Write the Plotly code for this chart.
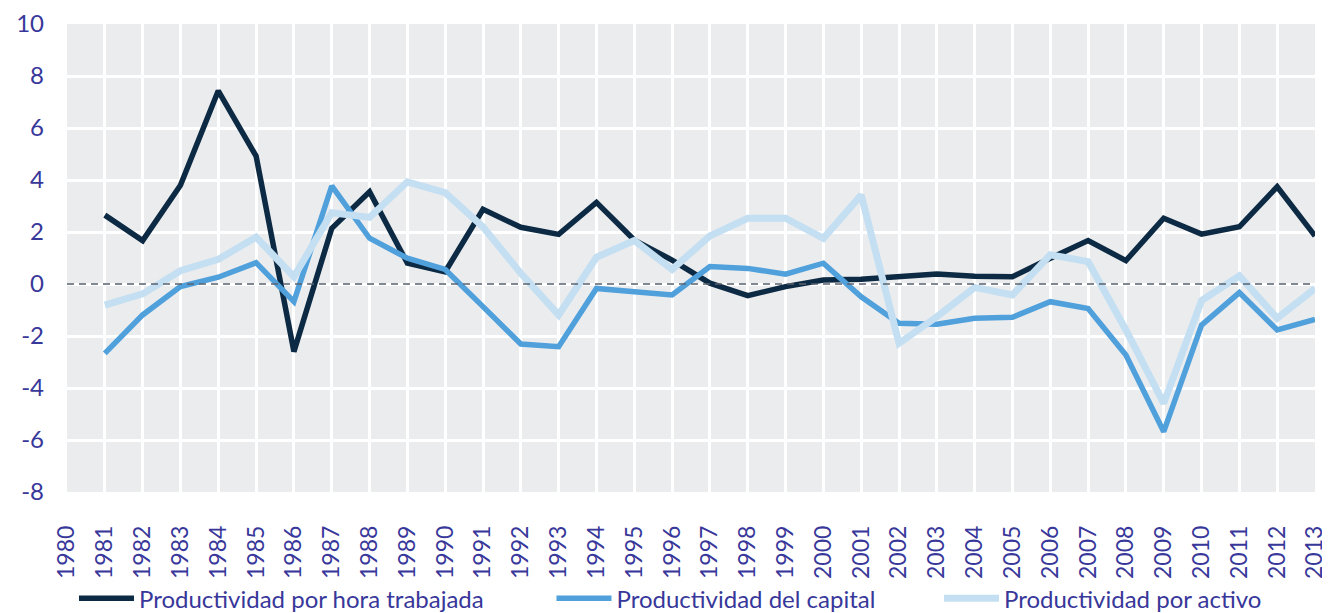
import plotly.graph_objects as go

years = list(range(1981, 2014))
tick_years = list(range(1980, 2014))
y_ticks = [-8, -6, -4, -2, 0, 2, 4, 6, 8, 10]

prod_hora = [2.65, 1.67, 3.8, 7.43, 4.92, -2.6, 2.14, 3.55, 0.8, 0.47,
             2.87, 2.18, 1.91, 3.14, 1.69, 0.92, 0.03, -0.45, -0.1, 0.15,
             0.18, 0.3, 0.38, 0.3, 0.28, 0.99, 1.67, 0.9, 2.53, 1.92,
             2.2, 3.74, 1.85]
prod_capital = [-2.67, -1.19, -0.1, 0.26, 0.82, -0.68, 3.77, 1.76, 0.99, 0.56,
                -0.87, -2.31, -2.41, -0.17, -0.3, -0.42, 0.67, 0.6, 0.38, 0.8,
                -0.49, -1.51, -1.55, -1.32, -1.28, -0.68, -0.94, -2.73, -5.68, -1.58,
                -0.33, -1.77, -1.36]
prod_activo = [-0.81, -0.38, 0.51, 0.95, 1.8, 0.28, 2.74, 2.56, 3.93, 3.51,
               2.2, 0.41, -1.19, 1.03, 1.67, 0.56, 1.85, 2.53, 2.53, 1.76,
               3.42, -2.28, -1.26, -0.13, -0.42, 1.12, 0.86, -1.77, -4.59, -0.64,
               0.31, -1.32, -0.17]

names = ["Productividad por hora trabajada", "Productividad del capital", "Productividad por activo"]
colors = ["#0d2a44", "#50a0dc", "#c4dff2"]
widths = [5.5, 5.5, 7]
series = [prod_hora, prod_capital, prod_activo]
legend_ids = ["legend", "legend2", "legend3"]

TEXT = "#38379a"
FONT = "Lato"

fig = go.Figure()
for name, vals, col, w, lg in zip(names, series, colors, widths, legend_ids):
    fig.add_trace(go.Scatter(x=years, y=vals, mode="lines", name=name,
                             line=dict(color=col, width=w), legend=lg))

fig.add_hline(y=0, line=dict(color="#58616d", width=1.5, dash="7px,5px"))

leg_common = dict(orientation="h", yanchor="middle", y=-0.228, xanchor="left",
                  font=dict(family=FONT, size=24, color=TEXT), bgcolor="rgba(0,0,0,0)",
                  itemwidth=55)
# page has an 8px body margin, so the figure is 8px smaller and shifted
fig.update_layout(
    width=1322, height=605,
    margin=dict(l=59, r=15, t=16, b=121, autoexpand=False),
    showlegend=True,
    paper_bgcolor="white",
    plot_bgcolor="#ebecee",
    font=dict(family=FONT, color=TEXT),
    legend=dict(x=0.0056, **leg_common),
    legend2=dict(x=0.3882, **leg_common),
    legend3=dict(x=0.6987, **leg_common),
    xaxis=dict(range=[1980, 2013], tickmode="array", tickvals=tick_years,
               ticktext=[str(y) for y in tick_years], tickangle=-90,
               showgrid=True, gridcolor="white", gridwidth=2.5, zeroline=False,
               tickfont=dict(family=FONT, size=23, color=TEXT),
               ticklabelstandoff=28, showline=False, automargin=False),
    yaxis=dict(range=[-8, 10], tickmode="array", tickvals=y_ticks,
               ticktext=[str(v) for v in y_ticks], showgrid=True, gridcolor="white",
               gridwidth=2.5, zeroline=False,
               tickfont=dict(family=FONT, size=24, color=TEXT),
               ticklabelstandoff=22, showline=False, automargin=False),
)

fig.write_html("out.html")
